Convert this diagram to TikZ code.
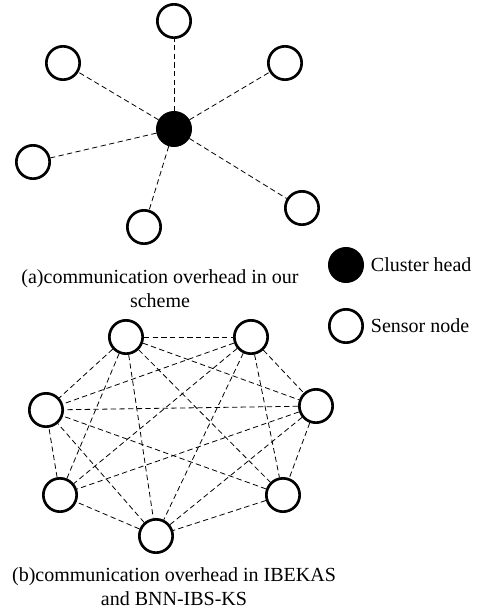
\documentclass[tikz,border=0pt]{standalone}
\usepackage{fontspec}
\setmainfont{Liberation Serif}
\usetikzlibrary{positioning}

\begin{document}
\begin{tikzpicture}[x=0.75pt,y=-0.75pt,
		sensor/.style={circle,draw,line width=2pt,minimum size=25pt,inner sep=0pt},
		head/.style={sensor,fill=black},
		link/.style={line width=0.6pt,dash pattern=on 4pt off 2.5pt},
		caption/.style={align=center,font=\fontsize{15}{18}\selectfont},
		legendtext/.style={font=\fontsize{15}{18}\selectfont,inner sep=1pt}]
			\useasboundingbox (0,0) rectangle (477,614);
			% (a) star around the cluster head
			\node[head] (ch) at (174,129) {};
			\node[sensor] (s1) at (174,21) {};
			\node[sensor] (s2) at (285,63) {};
			\node[sensor] (s3) at (302,208) {};
			\node[sensor] (s4) at (144,227) {};
			\node[sensor] (s5) at (33,162) {};
			\node[sensor] (s6) at (63,63) {};
			\path[link]
			(ch) edge (s1) edge (s2) edge (s3) edge (s4) edge (s5) edge (s6);
			\node[caption] (capa) at (160,289) {(a)communication overhead in our\\scheme};
			% legend
			\node[head] (leghead) at (346,265) {};
			\node[legendtext,right=4pt of leghead] (legheadtext) {Cluster head};
			\node[sensor] (legsensor) at (346,326) {};
			\node[legendtext,right=4pt of legsensor] (legsensortext) {Sensor node};
			% (b) every sensor talks to every other one
			\node[sensor] (m1) at (126,337) {};
			\node[sensor] (m2) at (251,337) {};
			\node[sensor] (m3) at (316,406) {};
			\node[sensor] (m4) at (283,495) {};
			\node[sensor] (m5) at (156,536) {};
			\node[sensor] (m6) at (60,495) {};
			\node[sensor] (m7) at (46,410) {};
			\path[link]
			(m1) edge (m2) edge (m3) edge (m4) edge (m5) edge (m6) edge (m7)
			(m2) edge (m3) edge (m4) edge (m5) edge (m6) edge (m7)
			(m3) edge (m4) edge (m5) edge (m6) edge (m7)
			(m4) edge (m5) edge (m7)
			(m5) edge (m6) edge (m7)
			(m6) edge (m7);
			\node[caption] (capb) at (174,587) {(b)communication overhead in IBEKAS\\and BNN-IBS-KS};
		\end{tikzpicture}
\end{document}
